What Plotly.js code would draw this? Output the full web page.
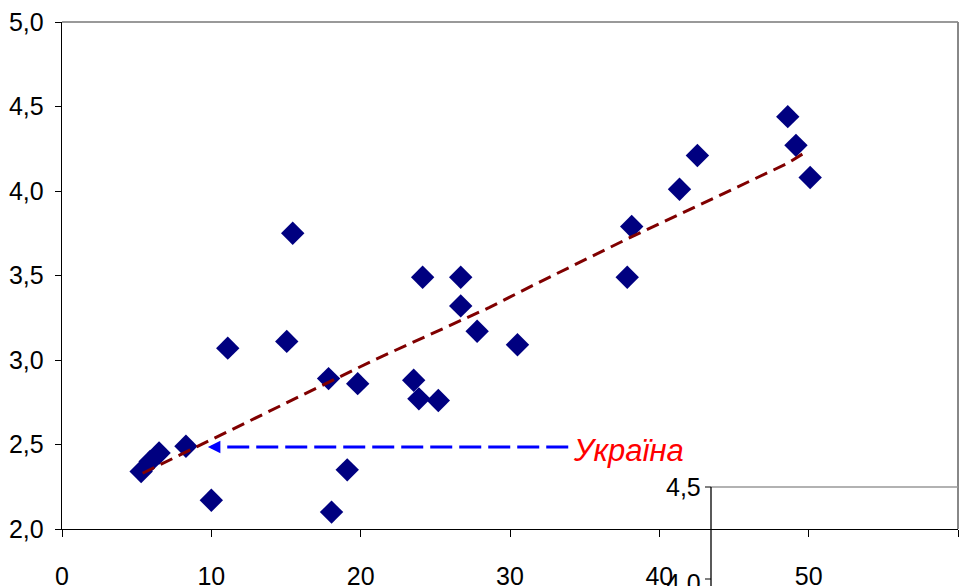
<!DOCTYPE html>
<html>
<head>
<meta charset="utf-8">
<script src="https://cdn.plot.ly/plotly-3.0.1.min.js"></script>
<style>html,body{margin:0;padding:0;background:#fff;}#chart{width:960px;height:586px;}</style>
</head>
<body>
<div id="chart"></div>
<script>
// Scatter points (x, y)
const pointsX = [5.3, 5.9, 6.5, 8.3, 10.0, 11.1, 15.05, 15.45, 17.85, 18.05, 19.1, 19.8, 23.55, 23.9, 24.15, 25.2, 26.7, 26.7, 27.8, 30.5, 37.85, 38.15, 41.35, 42.55, 48.6, 49.15, 50.1];
const pointsY = [2.34, 2.40, 2.45, 2.49, 2.17, 3.07, 3.11, 3.75, 2.89, 2.10, 2.35, 2.86, 2.88, 2.77, 3.49, 2.76, 3.49, 3.32, 3.17, 3.09, 3.49, 3.79, 4.01, 4.21, 4.44, 4.27, 4.08];
// Trend line
const trendX = [5.4, 20.9, 28.6, 31.5, 37.7, 48.5, 49.8];
const trendY = [2.33, 3.0, 3.31, 3.44, 3.71, 4.16, 4.23];
// Ukraine pointer
const ukraineLabel = 'Україна';
const ukraineY = 2.485;
const arrowFromX = 33.9;
const arrowToX = 10.7;
const arrowTipX = 9.77;
// Axis ticks
const xTicks = [0, 10, 20, 30, 40, 50, 60];
const yTicks = [2.0, 2.5, 3.0, 3.5, 4.0, 4.5, 5.0];
const insetTickLabels = ['4,5', '4,0'];

const tickFont = {family: 'Arimo, Liberation Sans, Arial, sans-serif', size: 25, color: '#000'};

const traces = [
  {
    x: pointsX, y: pointsY, type: 'scatter', mode: 'markers',
    marker: {symbol: 'diamond', size: 18, color: '#000080', line: {width: 0}},
    showlegend: false
  },
  {
    x: trendX, y: trendY, type: 'scatter', mode: 'lines',
    line: {color: '#800000', width: 3, dash: '13px,7px'},
    hoverinfo: 'skip', showlegend: false
  }
];

// paper coordinate helpers for the inset fragment
const L = 62, R = 958, T = 22, B = 529;
const px = v => (v - L) / (R - L);
const py = v => (B - v) / (B - T);

const layout = {
  width: 960, height: 586,
  margin: {l: 62, r: 2, t: 22, b: 57},
  paper_bgcolor: '#fff', plot_bgcolor: '#fff',
  separators: ', ',
  showlegend: false,
  font: {family: 'Liberation Sans, Arial, sans-serif', size: 25},
  xaxis: {
    range: [0, 60], tickvals: xTicks, ticktext: xTicks.map(String),
    showgrid: false, zeroline: false, showline: true, linecolor: '#000', linewidth: 1.3,
    ticks: 'outside', ticklen: 7, tickcolor: '#000', tickwidth: 1,
    tickfont: tickFont, ticklabelstandoff: 18, automargin: false, fixedrange: true
  },
  yaxis: {
    range: [2, 5], tickvals: yTicks, tickformat: '.1f',
    showgrid: false, zeroline: false, showline: true, linecolor: '#000', linewidth: 1.3,
    ticks: 'outside', ticklen: 6, tickcolor: '#000', tickwidth: 1,
    tickfont: tickFont, ticklabelstandoff: 6, automargin: false, fixedrange: true
  },
  shapes: [
    // top and right frame (gray)
    {type: 'line', xref: 'paper', yref: 'paper', x0: 0, x1: 1, y0: 1, y1: 1, line: {color: '#999', width: 2}},
    {type: 'line', xref: 'paper', yref: 'paper', x0: 1, x1: 1, y0: 0, y1: 1, line: {color: '#888', width: 2}},
    // Ukraine dashed pointer
    {type: 'line', xref: 'x', yref: 'y', x0: arrowFromX, x1: arrowToX, y0: ukraineY, y1: ukraineY, line: {color: '#0000ff', width: 3, dash: '22px,7px'}},
    // inset fragment
    {type: 'line', xref: 'paper', yref: 'paper', x0: px(711), x1: 1, y0: py(487), y1: py(487), line: {color: '#999', width: 1.5}},
    {type: 'line', xref: 'paper', yref: 'paper', x0: px(711), x1: px(711), y0: py(487), y1: py(600), line: {color: '#000', width: 1.3}},
    {type: 'line', xref: 'paper', yref: 'paper', x0: px(705), x1: px(711), y0: py(487), y1: py(487), line: {color: '#000', width: 1}},
    {type: 'line', xref: 'paper', yref: 'paper', x0: px(705), x1: px(711), y0: py(579), y1: py(579), line: {color: '#000', width: 1}}
  ],
  annotations: [
    {x: arrowTipX, y: ukraineY, xref: 'x', yref: 'y', text: '', showarrow: true, arrowhead: 2, arrowsize: 1, arrowwidth: 2.5, arrowcolor: '#0000ff', ax: 12, ay: 0},
    {x: 34.1, y: ukraineY - 0.02, xref: 'x', yref: 'y', text: '<i>' + ukraineLabel + '</i>', showarrow: false, xanchor: 'left', yanchor: 'middle',
     font: {family: 'Liberation Sans Narrow, Arial Narrow, Liberation Sans, Arial, sans-serif', size: 31, color: '#ff0000'}},
    {x: px(703), y: py(487), xref: 'paper', yref: 'paper', text: insetTickLabels[0], showarrow: false, xanchor: 'right', yanchor: 'middle', font: tickFont},
    {x: px(703), y: py(583), xref: 'paper', yref: 'paper', text: insetTickLabels[1], showarrow: false, xanchor: 'right', yanchor: 'middle', font: tickFont}
  ]
};

Plotly.newPlot('chart', traces, layout, {staticPlot: true, displayModeBar: false});
</script>
</body>
</html>
